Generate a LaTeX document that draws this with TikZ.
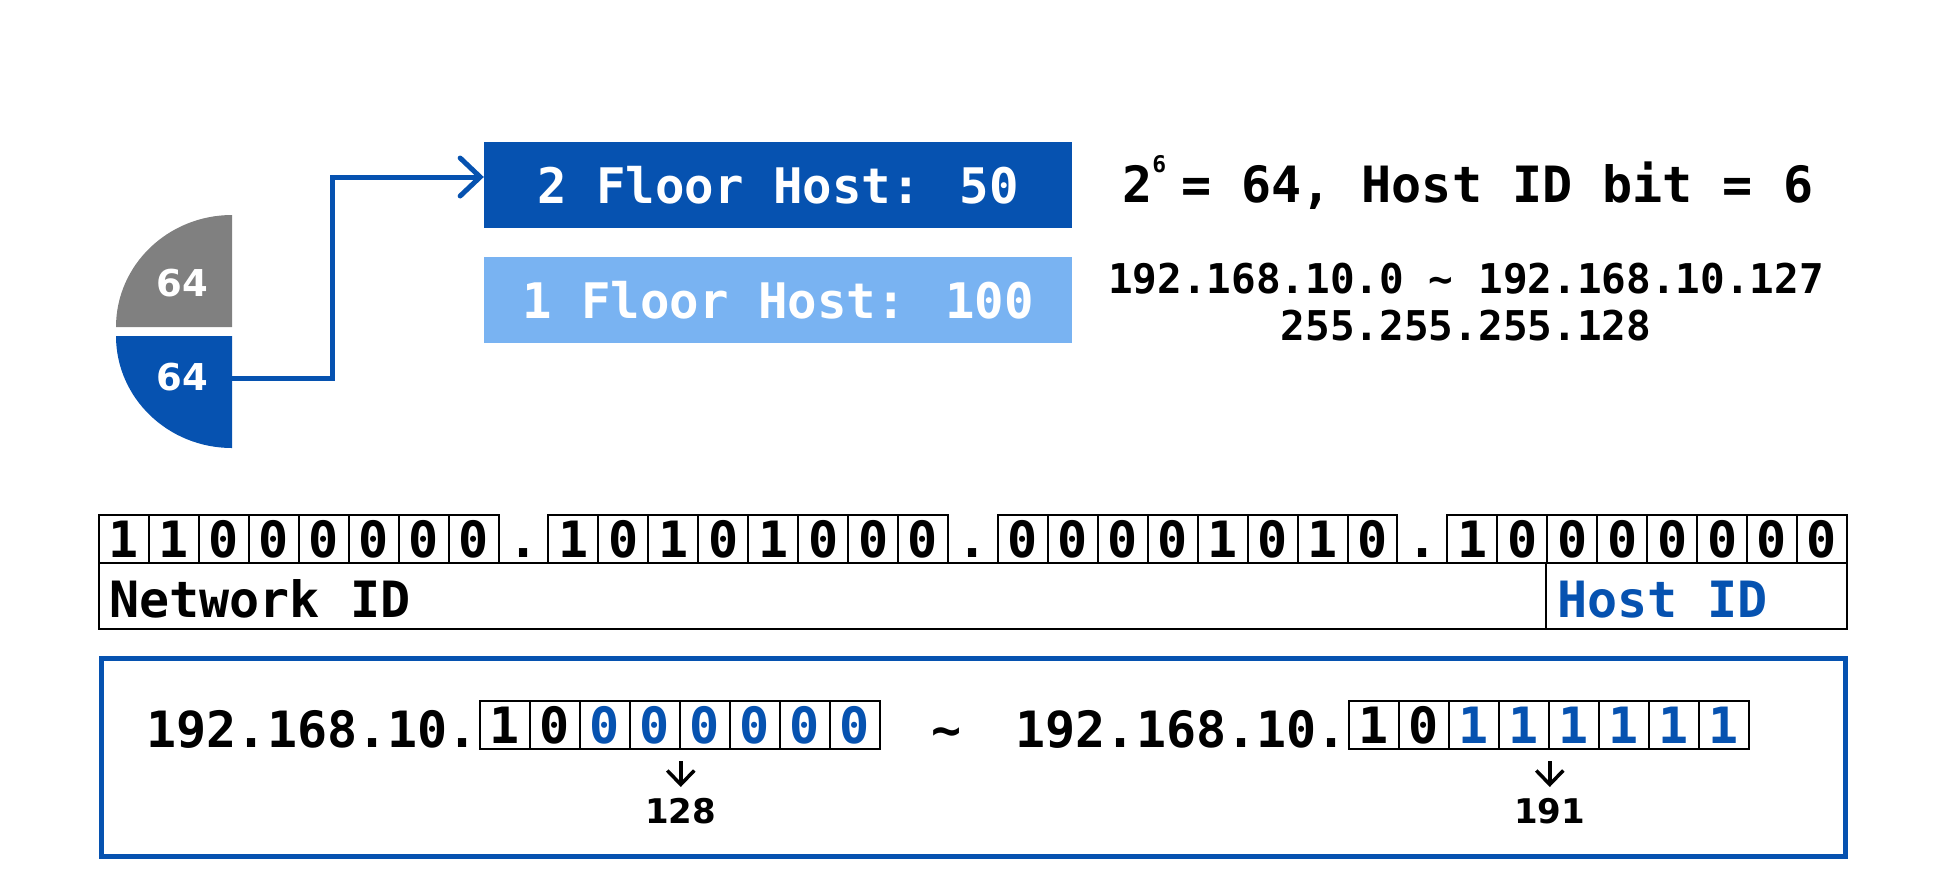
\documentclass[tikz,border=0pt]{standalone}
\usepackage{fontspec}
\setmainfont{DejaVu Sans Mono}
\newfontfamily\labelfont{DejaVu Sans}
\usetikzlibrary{arrows.meta, positioning, calc}
\definecolor{hostBlue}{RGB}{6, 82, 176}
\definecolor{floorBlue}{RGB}{121, 179, 242}
\definecolor{quarterGray}{RGB}{128, 128, 128}
\newcommand{\fsbig}{\fontsize{50}{60}\selectfont}
\newcommand{\fsmid}{\fontsize{41}{47}\selectfont}
\newcommand{\fslabel}{\fontsize{34}{40}\selectfont}
\newcommand{\supsix}{\raisebox{30pt}{\fontsize{23}{23}\selectfont 6}\hspace{15pt}}

\begin{document}
\begin{tikzpicture}[
    x=1pt, y=-1pt,
    font=\bfseries\fsbig,
    % Styles
    floor/.style={
        text=white, minimum width=588pt, minimum height=86pt, inner sep=0pt,
        font=\bfseries\fontsize{49}{60}\selectfont
    },
    bitcell/.style={
        draw, line width=2pt, minimum width=49.94pt, minimum height=48pt,
        inner sep=0pt, text height=36pt, text depth=0pt
    },
    dotcell/.style={
        minimum width=49.94pt, minimum height=48pt, inner sep=0pt, text height=36pt, text depth=0pt
    },
    link/.style={
        draw=hostBlue, line width=5pt, -{Straight Barb[length=20pt, width=38pt, line cap=round]}
    },
    pointer/.style={
        draw=black, line width=3.5pt, shorten >=11pt, -{Straight Barb[length=14pt, width=27pt]}
    },
    qlabel/.style={
        text=white, font=\labelfont\bfseries\fontsize{37}{40}\selectfont
    },
    numlabel/.style={
        inner sep=0pt, font=\labelfont\bfseries\fslabel
    }
]

    \useasboundingbox (0,0) rectangle (1946,871);

    % --- 1. Quarter circles ---
    \fill[quarterGray] (232,327) -- ++(0,-112) arc[start angle=90, end angle=180, x radius=116pt, y radius=112pt] -- cycle;
    \fill[hostBlue] (232,336) -- ++(0,112) arc[start angle=270, end angle=180, x radius=116pt, y radius=112pt] -- cycle;
    \node[qlabel] (upq) at (182,283) {64};
    \node[qlabel] (lowq) at (182,377) {64};
    \coordinate (qedge) at (232,378);

    % --- 2. Floor boxes ---
    \node[floor, fill=hostBlue] (fl2) at (778,185) {2 Floor Host: 50};
    \node[floor, fill=floorBlue] (fl1) at (778,300) {1 Floor Host: 100};

    % Connector to the 2 floor box
    \draw[link] (qedge) -- ++(100,0) |- ([yshift=8pt]fl2.west);

    % --- 3. Right-hand notes ---
    \node[anchor=base west, inner sep=0pt] (powtxt) at (1122,202) {2\supsix= 64, Host ID bit = 6};
    \node[anchor=base, font=\bfseries\fsmid] (range) at (1466,293) {192.168.10.0 \textasciitilde{} 192.168.10.127};
    \node[anchor=base, font=\bfseries\fsmid] (mask) at (1466,340) {255.255.255.128};

    % --- 4. Address bits ---
    \foreach \oct [count=\k from 0] in {{1,1,0,0,0,0,0,0},{1,0,1,0,1,0,0,0},{0,0,0,0,1,0,1,0},{1,0,0,0,0,0,0,0}} {
        \foreach \b [count=\j from 0] in \oct {
            \node[bitcell] (ip-\k-\j) at ({99+(9*\k+\j+0.5)*49.94},539) {\b};
        }
    }
    \foreach \k in {0,1,2} {
        \node[dotcell] (dot-\k) at ({99+(9*\k+8.5)*49.94},539) {.};
    }

    % Network / Host row
    \node[draw, line width=2pt, minimum width=1748pt, minimum height=66pt, inner sep=0pt] (idrow) at (973,596) {};
    \draw[line width=2pt] (ip-3-2.south west) -- (ip-3-2.south west |- idrow.south);
    \node[anchor=base west, inner sep=0pt] (netid) at (109,617) {Network ID};
    \node[anchor=base west, inner sep=0pt, text=hostBlue] (hostid) at (1557,617) {Host ID};

    % --- 5. Host range ---
    \node[draw=hostBlue, line width=5pt, minimum width=1744pt, minimum height=198pt, inner sep=0pt] (rangebox) at (973,757) {};

    \node[anchor=base east, inner sep=0pt] (pre1) at (478,747) {192.168.10.};
    \foreach \b [count=\j from 0] in {1,0,0,0,0,0,0,0} {
        \ifnum\j<2 \def\bc{black}\else\def\bc{hostBlue}\fi
        \node[bitcell, text=\bc] (lo-\j) at ({480+(\j+0.5)*49.94},725) {\b};
    }
    \node[anchor=base] (tilde) at (947,747) {\textasciitilde};
    \node[anchor=base east, inner sep=0pt] (pre2) at (1347,747) {192.168.10.};
    \foreach \b [count=\j from 0] in {1,0,1,1,1,1,1,1} {
        \ifnum\j<2 \def\bc{black}\else\def\bc{hostBlue}\fi
        \node[bitcell, text=\bc] (hi-\j) at ({1349+(\j+0.5)*49.94},725) {\b};
    }

    % Decimal values
    \node[numlabel, below=48pt of lo-3.south east] (lbl128) {128};
    \node[numlabel, below=48pt of hi-3.south east] (lbl191) {191};
    \draw[pointer] ([yshift=-11pt]lo-3.south east) -- (lbl128.north);
    \draw[pointer] ([yshift=-11pt]hi-3.south east) -- (lbl191.north);

\end{tikzpicture}
\end{document}
